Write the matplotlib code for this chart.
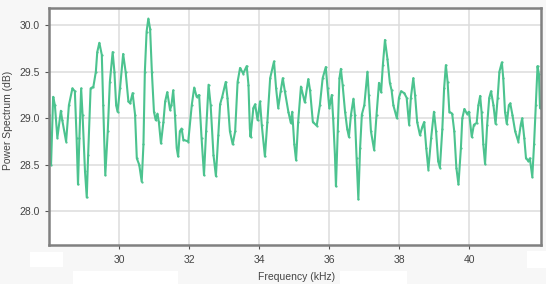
import matplotlib
matplotlib.use("Agg")
import matplotlib.pyplot as plt
from matplotlib.patches import Rectangle

freq_khz = [28.00, 28.05, 28.11, 28.16, 28.23, 28.33, 28.37, 28.48, 28.56, 28.66,
            28.73, 28.78, 28.82, 28.86, 28.91, 28.95, 29.02, 29.07, 29.11, 29.18,
            29.26, 29.33, 29.37, 29.43, 29.50, 29.54, 29.60, 29.67, 29.73, 29.81,
            29.86, 29.91, 29.95, 30.02, 30.11, 30.18, 30.26, 30.31, 30.38, 30.45,
            30.50, 30.57, 30.64, 30.69, 30.73, 30.78, 30.83, 30.88, 30.93, 30.99,
            31.04, 31.09, 31.13, 31.19, 31.26, 31.31, 31.37, 31.45, 31.49, 31.54,
            31.59, 31.64, 31.68, 31.73, 31.78, 31.83, 31.97, 32.07, 32.14, 32.21,
            32.28, 32.35, 32.42, 32.48, 32.55, 32.61, 32.69, 32.76, 32.83, 32.88,
            32.94, 33.04, 33.09, 33.16, 33.24, 33.31, 33.38, 33.45, 33.54, 33.64,
            33.69, 33.73, 33.75, 33.83, 33.88, 33.95, 34.02, 34.07, 34.16, 34.23,
            34.31, 34.42, 34.48, 34.54, 34.61, 34.67, 34.73, 34.83, 34.90, 34.94,
            35.00, 35.05, 35.11, 35.19, 35.30, 35.40, 35.45, 35.53, 35.64, 35.73,
            35.81, 35.90, 35.95, 36.00, 36.07, 36.11, 36.16, 36.19, 36.24, 36.29,
            36.33, 36.38, 36.45, 36.51, 36.56, 36.62, 36.69, 36.73, 36.78, 36.83,
            36.88, 36.93, 37.00, 37.09, 37.13, 37.19, 37.28, 37.35, 37.42, 37.48,
            37.53, 37.59, 37.66, 37.73, 37.78, 37.83, 37.93, 37.99, 38.05, 38.14,
            38.21, 38.28, 38.33, 38.40, 38.45, 38.51, 38.59, 38.66, 38.71, 38.77,
            38.83, 38.91, 38.99, 39.05, 39.11, 39.16, 39.23, 39.28, 39.33, 39.38,
            39.43, 39.51, 39.57, 39.63, 39.69, 39.76, 39.80, 39.86, 39.93, 39.99,
            40.07, 40.13, 40.21, 40.26, 40.31, 40.35, 40.40, 40.45, 40.51, 40.57,
            40.62, 40.69, 40.75, 40.81, 40.86, 40.93, 40.97, 41.02, 41.07, 41.13,
            41.17, 41.23, 41.31, 41.40, 41.47, 41.51, 41.57, 41.62, 41.69, 41.73,
            41.80, 41.85, 41.90, 41.95, 41.99, 42.02]
power_db = [29.04, 28.50, 29.23, 29.14, 28.79, 29.08, 28.98, 28.75, 29.14, 29.32,
            29.29, 28.79, 28.29, 28.79, 29.32, 29.04, 28.43, 28.15, 28.61, 29.32,
            29.34, 29.50, 29.71, 29.81, 29.68, 29.14, 28.39, 28.86, 29.39, 29.71,
            29.50, 29.14, 29.07, 29.32, 29.69, 29.50, 29.18, 29.16, 29.27, 29.04,
            28.57, 28.50, 28.32, 28.72, 29.50, 29.93, 30.07, 29.96, 29.50, 29.07,
            28.98, 29.05, 28.96, 28.73, 28.96, 29.18, 29.28, 29.09, 29.14, 29.30,
            29.04, 28.68, 28.59, 28.86, 28.89, 28.77, 28.75, 29.14, 29.33, 29.23,
            29.25, 28.79, 28.39, 28.86, 29.36, 29.14, 28.61, 28.38, 28.82, 29.15,
            29.23, 29.39, 29.22, 28.86, 28.72, 28.86, 29.39, 29.54, 29.48, 29.56,
            29.36, 28.89, 28.80, 29.11, 29.15, 28.98, 29.18, 28.93, 28.59, 28.96,
            29.43, 29.61, 29.32, 29.11, 29.29, 29.43, 29.29, 29.07, 28.95, 29.07,
            28.72, 28.55, 28.96, 29.34, 29.17, 29.42, 29.30, 28.96, 28.92, 29.14,
            29.43, 29.55, 29.32, 29.11, 29.25, 29.00, 28.61, 28.27, 28.86, 29.43,
            29.53, 29.36, 29.07, 28.89, 28.80, 29.04, 29.21, 29.04, 28.57, 28.13,
            28.68, 29.04, 29.14, 29.50, 29.25, 28.86, 28.66, 29.04, 29.38, 29.28,
            29.57, 29.84, 29.64, 29.38, 29.30, 29.14, 29.00, 29.22, 29.29, 29.27,
            29.22, 28.93, 29.22, 29.43, 29.25, 28.96, 28.82, 28.91, 28.96, 28.68,
            28.45, 28.79, 29.07, 28.86, 28.54, 28.47, 28.89, 29.32, 29.57, 29.39,
            29.07, 29.05, 28.86, 28.47, 28.29, 28.68, 29.00, 29.10, 29.05, 29.07,
            28.80, 28.93, 28.95, 29.14, 29.24, 29.07, 28.72, 28.51, 28.93, 29.22,
            29.29, 29.14, 28.94, 29.22, 29.50, 29.60, 29.43, 29.07, 28.94, 29.14,
            29.16, 29.04, 28.86, 28.75, 28.93, 29.00, 28.79, 28.57, 28.54, 28.57,
            28.37, 28.72, 29.14, 29.56, 29.47, 29.11]
x_ticks = [30, 32, 34, 36, 38, 40]
y_ticks = [28.0, 28.5, 29.0, 29.5, 30.0]

plt.rcParams['font.family'] = ['Liberation Sans', 'DejaVu Sans']

W, H = 546, 284
fig = plt.figure(figsize=(W / 100, H / 100), dpi=100, facecolor='#f7f7f7')

# white background boxes behind labels
for (x0, y0, x1, y1) in [(30, 252, 63, 267), (73, 271, 178, 284),
                         (340, 271, 407, 284), (527, 251, 546, 268)]:
    fig.patches.append(Rectangle((x0 / W, 1 - y1 / H), (x1 - x0) / W, (y1 - y0) / H,
                                 transform=fig.transFigure, facecolor='white',
                                 edgecolor='none', zorder=0))

ax_l, ax_r, ax_t, ax_b = 49.3, 540.7, 8.3, 245.0
ax = fig.add_axes([ax_l / W, 1 - ax_b / H, (ax_r - ax_l) / W, (ax_b - ax_t) / H])
ax.set_facecolor('white')
ax.plot(freq_khz, power_db, color='#4cc38f', linewidth=1.5, marker='.',
        markersize=1.2, solid_joinstyle='round', solid_capstyle='round')

ax.set_xlim(28.0, 42.04)
ax.set_ylim(27.64, 30.18)
ax.set_xticks(x_ticks)
ax.set_yticks(y_ticks)
ax.set_xticklabels([str(t) for t in x_ticks])
ax.set_yticklabels([f"{t:.1f}" for t in y_ticks])
ax.grid(True, color='#dcdcdc', linewidth=1.1)
ax.set_axisbelow(True)
for s in ax.spines.values():
    s.set_color('#808080')
    s.set_linewidth(1.8)
ax.tick_params(axis='both', colors='#555555', labelsize=7.5, length=3, width=0.8,
               labelcolor='#444444', pad=4)
ax.set_xlabel('Frequency (kHz)', fontsize=7.5, color='#444444', va='center')
ax.set_ylabel('Power Spectrum (dB)', fontsize=7.5, color='#444444', va='center')
ax.xaxis.set_label_coords((297 - ax_l) / (ax_r - ax_l), -(277 - ax_b) / (ax_b - ax_t))
ax.yaxis.set_label_coords(-(49.3 - 8) / (ax_r - ax_l), (ax_b - 120) / (ax_b - ax_t))

fig.savefig('out.png', dpi=100, facecolor=fig.get_facecolor())
